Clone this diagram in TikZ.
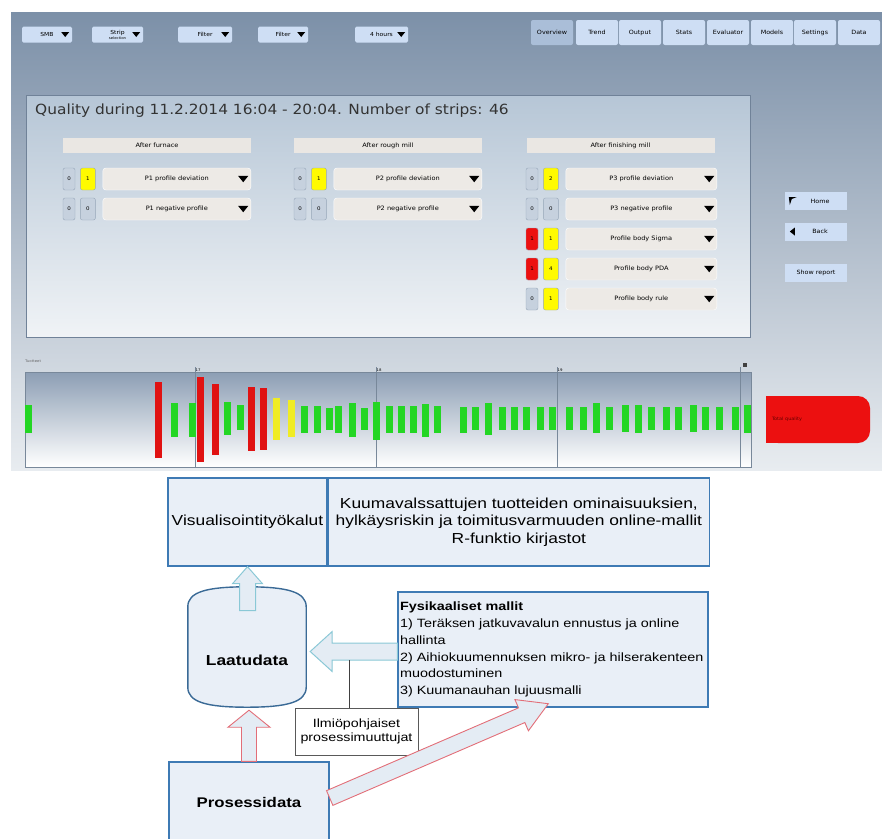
\documentclass[tikz,border=0pt]{standalone}
\usepackage{fontspec}
\setmainfont{Liberation Sans}[FakeStretch=1.2]
\newfontfamily\uifont{DejaVu Sans}[FakeStretch=1.1]
\usetikzlibrary{positioning,calc}

\definecolor{scrtop}{RGB}{124,144,168}
\definecolor{scrbot}{RGB}{232,236,240}
\definecolor{pantop}{RGB}{182,198,214}
\definecolor{panbot}{RGB}{240,243,246}
\definecolor{panedge}{RGB}{112,130,152}
\definecolor{btnfill}{RGB}{206,222,244}
\definecolor{tabsel}{RGB}{170,190,216}
\definecolor{hdrfill}{RGB}{234,231,227}
\definecolor{ddfill}{RGB}{237,234,230}
\definecolor{cntgrey}{RGB}{198,209,222}
\definecolor{cntedge}{RGB}{150,166,184}
\definecolor{uiyellow}{RGB}{255,250,0}
\definecolor{uired}{RGB}{236,16,16}
\definecolor{bargreen}{RGB}{36,214,36}
\definecolor{barred}{RGB}{224,18,18}
\definecolor{baryellow}{RGB}{240,236,36}
\definecolor{tltop}{RGB}{140,158,180}
\definecolor{tledge}{RGB}{120,136,154}
\definecolor{boxfill}{RGB}{233,239,247}
\definecolor{boxedge}{RGB}{62,122,180}
\definecolor{cyledge}{RGB}{58,106,150}
\definecolor{arrblue}{RGB}{138,200,214}
\definecolor{arrred}{RGB}{226,110,120}
\definecolor{arrfill}{RGB}{228,236,244}

\tikzstyle{topbtn} = [fill=btnfill, rounded corners=1.5pt, minimum height=16,
    inner sep=0pt, font=\uifont\fontsize{5.5}{6}\selectfont]
\tikzstyle{tabbox} = [fill=btnfill, rounded corners=2pt, minimum width=42,
    minimum height=25, inner sep=0pt, font=\uifont\fontsize{5.8}{6}\selectfont]
\tikzstyle{hdrbar} = [fill=hdrfill, minimum width=188, minimum height=15,
    inner sep=0pt, font=\uifont\fontsize{6}{6}\selectfont]
\tikzstyle{cntbox} = [draw=cntedge, fill=cntgrey, rounded corners=2pt, minimum width=12,
    minimum height=22, inner sep=0pt, font=\uifont\fontsize{5}{6}\selectfont]
\tikzstyle{ddbox} = [fill=ddfill, draw=white, rounded corners=3pt, minimum height=22,
    inner sep=0pt, font=\uifont\fontsize{6}{6}\selectfont]
\tikzstyle{sidebtn} = [fill=btnfill, minimum width=62, minimum height=18,
    inner sep=0pt, font=\uifont\fontsize{5.8}{6}\selectfont]
\tikzset{
    plainbox/.style={draw=boxedge, line width=1.4pt, fill=boxfill, inner sep=0pt,
        align=center, font=\fontsize{14.5}{17.5}\selectfont},
    notebox/.style={draw=black!65, fill=white, line width=0.6pt, inner sep=0pt,
        align=center, font=\fontsize{11.9}{14}\selectfont},
    bluearrow/.style={draw=arrblue, fill=arrfill, line width=1pt},
    redarrow/.style={draw=arrred, fill=arrfill, line width=0.9pt}
}

% drop-down triangle at the right end of a node
\newcommand{\ddarrow}[3]{\fill[black] ($(#1.east)+(-#2,-#3/2)$) -- ++(#3*1.6,0) -- ++(-#3*0.8,#3) -- cycle;}
% one row of the quality table
\newcommand{\qualrow}[9]{%
    \node[cntbox, fill=#5] (#1a) at (#2+6,#3) {#4};
    \node[cntbox, fill=#7, minimum width=15, right=5pt of #1a] (#1b) {#6};
    \node[ddbox, minimum width=#9, right=7pt of #1b] (#1d) {#8\hspace{12pt}};
    \ddarrow{#1d}{13}{6.5}
}
% hollow block arrow from #2 to #3
\newcommand{\hollowarrow}[6]{%
    \coordinate (hb) at ($(#3)!#6!(#2)$);
    \draw[#1] ($(#2)!#4!90:(#3)$) -- ($(hb)!#4!90:(#3)$) -- ($(hb)!#5!90:(#3)$) -- (#3)
        -- ($(hb)!#5!-90:(#3)$) -- ($(hb)!#4!-90:(#3)$) -- ($(#2)!#4!-90:(#3)$) -- cycle;
}

\begin{document}
\begin{tikzpicture}[x=1pt,y=-1pt]
    \useasboundingbox (0,0) rectangle (882,838);

    % Screen
    \shade[top color=scrtop, bottom color=scrbot] (11,12) rectangle (882,470);

    % Top bar
    \node[topbtn, minimum width=50] (smb) at (47,34.5) {SMB\hspace{16pt}};
    \node[topbtn, minimum width=51, align=center] (strip) at (117.5,34.5)
        {Strip\\[-1pt]{\fontsize{3.5}{4}\selectfont selection}\hspace{16pt}};
    \node[topbtn, minimum width=54] (filt1) at (205,34.5) {Filter\hspace{16pt}};
    \node[topbtn, minimum width=50] (filt2) at (283,34.5) {Filter\hspace{16pt}};
    \node[topbtn, minimum width=53] (hours) at (381.5,34.5) {4 hours\hspace{14pt}};
    \foreach \btn in {smb,strip,filt1,filt2,hours}
        {\ddarrow{\btn}{11}{5}}

    % Tabs
    \node[tabbox, fill=tabsel] (tab1) at (552,32.5) {Overview};
    \foreach \tname/\tx [count=\i from 2] in {Trend/597, Output/640, Stats/684,
        Evaluator/728, Models/772, Settings/815, Data/859}
        \node[tabbox] (tab\i) at (\tx,32.5) {\tname};

    % Quality panel
    \node[draw=panedge, top color=pantop, bottom color=panbot, minimum width=724,
        minimum height=242, inner sep=0pt] (quality) at (388,216) {};
    \node[anchor=west, inner sep=0pt, text=black!80, font=\uifont\fontsize{14}{16}\selectfont]
        (title) at (35,111) {Quality during 11.2.2014 16:04 - 20:04. Number of strips: 46};

    \node[hdrbar] (furnace) at (157,145.5) {After furnace};
    \node[hdrbar] (rough) at (388,145.5) {After rough mill};
    \node[hdrbar] (finish) at (620.5,145.5) {After finishing mill};

    \qualrow{fa}{63}{179}{0}{cntgrey}{1}{uiyellow}{P1 profile deviation}{148}
    \qualrow{fb}{63}{209}{0}{cntgrey}{0}{cntgrey}{P1 negative profile}{148}
    \qualrow{ra}{294}{179}{0}{cntgrey}{1}{uiyellow}{P2 profile deviation}{148}
    \qualrow{rb}{294}{209}{0}{cntgrey}{0}{cntgrey}{P2 negative profile}{148}
    \qualrow{ma}{526}{179}{0}{cntgrey}{2}{uiyellow}{P3 profile deviation}{151}
    \qualrow{mb}{526}{209}{0}{cntgrey}{0}{cntgrey}{P3 negative profile}{151}
    \qualrow{mc}{526}{239}{1}{uired}{1}{uiyellow}{Profile body Sigma}{151}
    \qualrow{md}{526}{269}{1}{uired}{4}{uiyellow}{Profile body PDA}{151}
    \qualrow{me}{526}{299}{0}{cntgrey}{1}{uiyellow}{Profile body rule}{151}

    % Side buttons
    \node[sidebtn] (home) at (816,201) {\hspace{8pt}Home};
    \node[sidebtn] (back) at (816,231.5) {\hspace{8pt}Back};
    \node[sidebtn] (report) at (816,273) {Show report};
    \fill[black] ($(home.west)+(4,-4)$) -- ++(8,0) -- ++(-5,2) -- ++(-2,6) -- cycle;
    \fill[black] ($(back.west)+(5,0)$) -- ++(5,-4) -- ++(0,8) -- cycle;

    % Timeline
    \node[anchor=west, inner sep=0pt, text=black!60, font=\uifont\fontsize{3.5}{4}\selectfont]
        (tllabel) at (25,361) {Tuotteet};
    \node[draw=tledge, top color=tltop, bottom color=white, minimum width=726,
        minimum height=95, inner sep=0pt] (timeline) at (388,419.5) {};
    \foreach \tx/\tl in {195/17, 376/18, 557/19} {
        \draw[tledge] (\tx,367) -- (\tx,467);
        \node[anchor=south west, inner sep=0.5pt, font=\uifont\fontsize{3.5}{4}\selectfont]
            at (\tx,372) {\tl};
    }
    \draw[tledge] (740,367) -- (740,467);
    \fill[black!75] (743,363) rectangle (747,367);
    \foreach \x/\t/\b/\c in {25/405/433/bargreen, 155/382/458/barred, 171/403/437/bargreen,
        189/403/437/bargreen, 197/377/462/barred, 212/384/455/barred, 224/402/435/bargreen,
        237/405/430/bargreen, 248/387/451/barred, 260/388/450/barred, 273/398/440/baryellow,
        288/400/437/baryellow, 301/406/433/bargreen, 314/406/433/bargreen, 326/408/430/bargreen,
        335/406/433/bargreen, 349/403/437/bargreen, 361/408/430/bargreen, 373/402/440/bargreen,
        386/406/433/bargreen, 398/406/433/bargreen, 410/406/433/bargreen, 422/404/437/bargreen,
        434/406/433/bargreen, 460/407/433/bargreen, 472/407/430/bargreen, 485/403/435/bargreen,
        499/407/430/bargreen, 511/407/430/bargreen, 523/407/430/bargreen, 537/407/430/bargreen,
        549/407/430/bargreen, 566/407/430/bargreen, 580/407/430/bargreen, 593/403/433/bargreen,
        606/407/430/bargreen, 622/405/432/bargreen, 635/405/433/bargreen, 648/407/430/bargreen,
        663/407/430/bargreen, 675/407/430/bargreen, 690/405/432/bargreen, 702/407/430/bargreen,
        716/407/430/bargreen, 732/407/430/bargreen, 744/405/433/bargreen}
        {\fill[\c] (\x,\t) rectangle (\x+6.5,\b);}

    % Total quality
    \node[fill=uired, rounded corners=12pt, minimum width=104, minimum height=47,
        inner sep=0pt] (totq) at (818,419.5) {};
    \fill[uired] (totq.north west) rectangle (totq.south);
    \node[anchor=west, inner sep=0pt, text=red!40!black, font=\uifont\fontsize{4.5}{5}\selectfont]
        (totqtxt) at ($(totq.west)+(6,0)$) {Total quality};

    % Tools and models
    \node[plainbox, minimum width=159, minimum height=88] (vis) at (247.5,522) {Visualisointityökalut};
    \node[plainbox, minimum width=381, minimum height=88, right=0pt of vis] (onl)
        {Kuumavalssattujen tuotteiden ominaisuuksien,\\hylkäysriskin ja toimitusvarmuuden online-mallit\\R-funktio kirjastot};

    % Quality data
    \node[minimum width=118, minimum height=120, inner sep=0pt] (laatu) at (247,647) {};
    \draw[cyledge, line width=1.4pt, fill=boxfill]
        ($(laatu.north west)+(0,20)$) .. controls +(0,-15) and +(-40,0) .. (laatu.north)
        .. controls +(40,0) and +(0,-15) .. ($(laatu.north east)+(0,20)$)
        -- ($(laatu.south east)+(0,-20)$) .. controls +(0,15) and +(40,0) .. (laatu.south)
        .. controls +(-40,0) and +(0,15) .. ($(laatu.south west)+(0,-20)$) -- cycle;
    \node[font=\bfseries\fontsize{14.5}{16}\selectfont] (laatulbl) at ($(laatu.center)+(0,13)$) {Laatudata};

    % Physical models
    \node[plainbox, font=\fontsize{12}{16.8}\selectfont, align=left, text width=306,
        inner xsep=2pt, minimum height=115] (fys) at (553,649.5)
        {\textbf{Fysikaaliset mallit}\\1) Teräksen jatkuvavalun ennustus ja online\\hallinta\\
         2) Aihiokuumennuksen mikro- ja hilserakenteen\\muodostuminen\\3) Kuumanauhan lujuusmalli};

    % Process data
    \node[plainbox, minimum width=160, minimum height=80,
        font=\bfseries\fontsize{14}{16}\selectfont] (pro) at (249,802) {Prosessidata};

    % Phenomenon label
    \node[notebox, minimum width=123, minimum height=47] (note) at (356.5,731.5)
        {Ilmiöpohjaiset\\prosessimuuttujat};

    % Connect everything
    \coordinate (upTip) at (vis.south);
    \coordinate (upTail) at ($(upTip)+(0,44)$);
    \hollowarrow{bluearrow}{upTail}{upTip}{8pt}{15pt}{17pt}

    \coordinate (lfTail) at ($(fys.west)+(0,2)$);
    \coordinate (lfTip) at ($(laatu.east |- lfTail)+(4,0)$);
    \hollowarrow{bluearrow}{lfTail}{lfTip}{8.5pt}{20pt}{22pt}
    \coordinate (lfLink) at ($(lfTip)!0.45!(lfTail)$);
    \draw[black!75, line width=0.6pt] ($(lfLink)+(0,8.5)$) -- (note.north -| lfLink);

    \coordinate (rdTail) at (pro.north);
    \coordinate (rdTip) at ($(laatu.south -| pro.north)+(0,3)$);
    \hollowarrow{redarrow}{rdTail}{rdTip}{7.5pt}{21pt}{17pt}

    \coordinate (dgTail) at ($(pro.east)+(0,-4)$);
    \coordinate (dgTip) at ($(fys.south west)+(151,-4)$);
    \hollowarrow{redarrow}{dgTail}{dgTip}{8pt}{17pt}{29pt}
\end{tikzpicture}
\end{document}
